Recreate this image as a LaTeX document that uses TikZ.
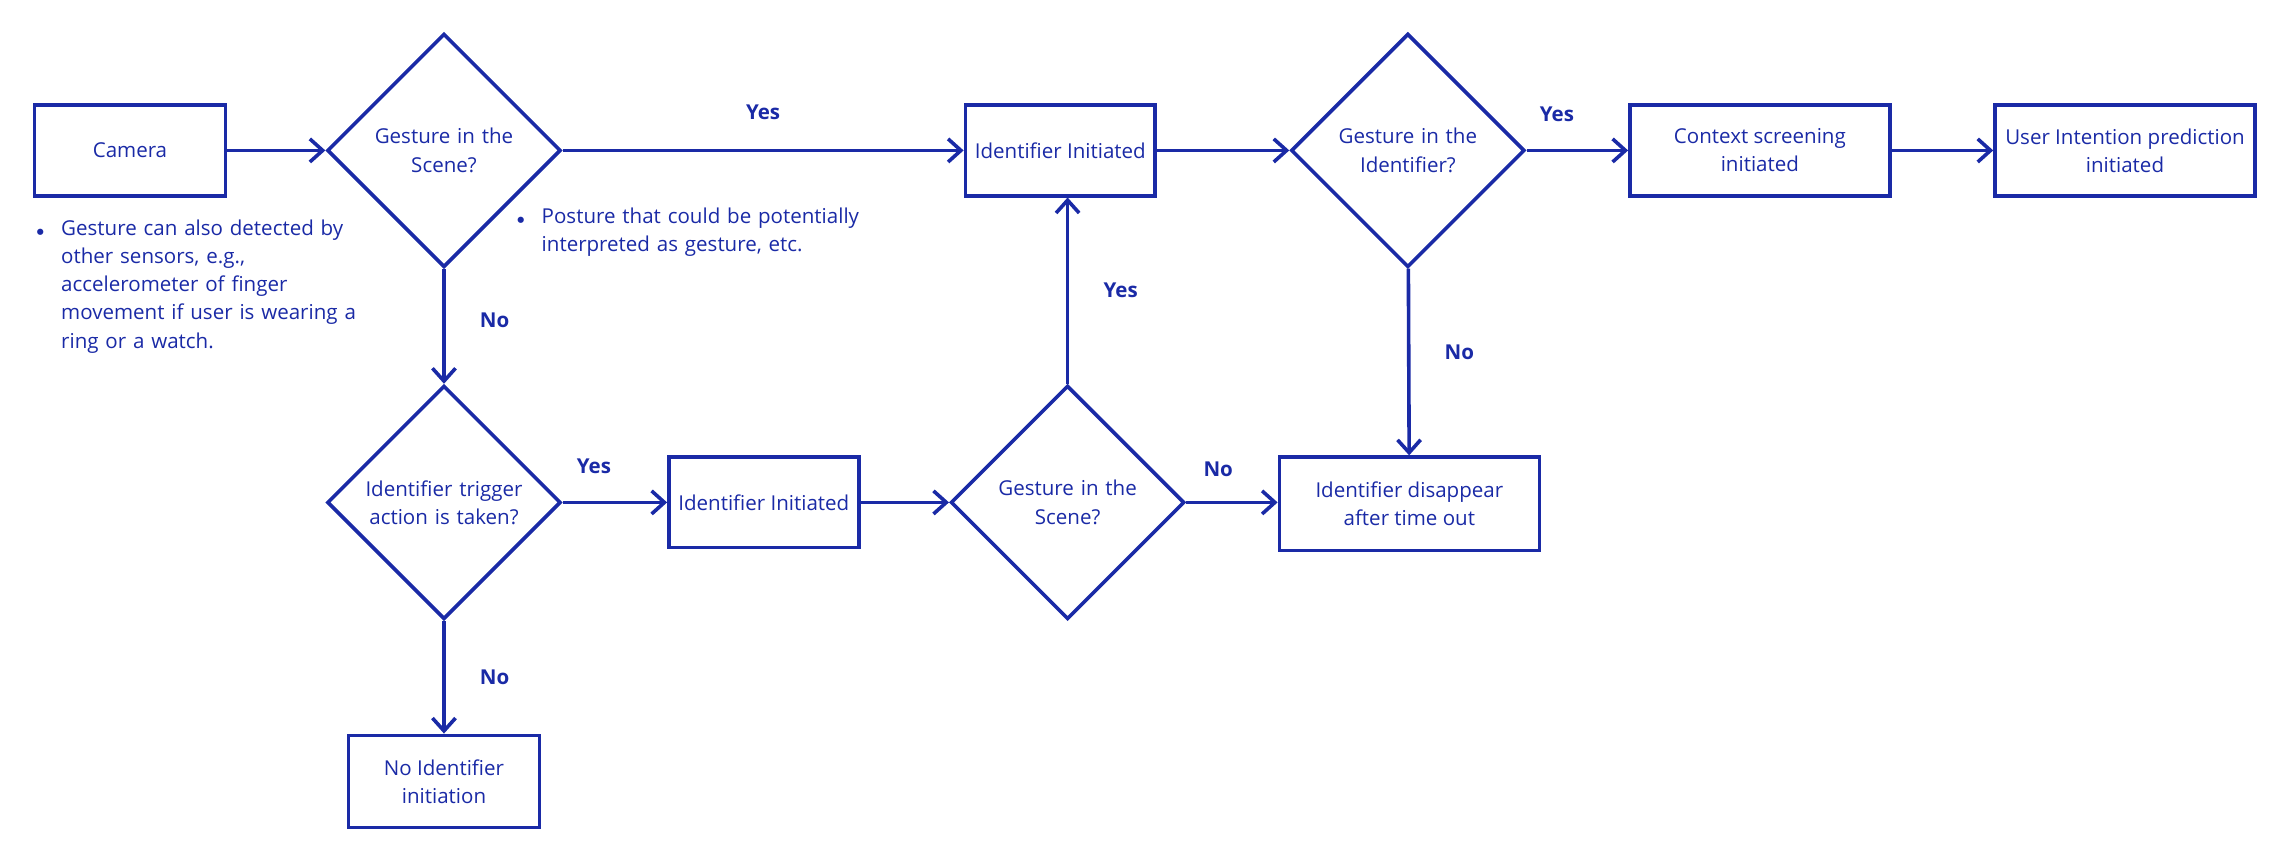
\documentclass[tikz,border=0pt]{standalone}
\usepackage{fontspec}
\setmainfont{Open Sans}
\usetikzlibrary{shapes.geometric,arrows.meta}
\definecolor{fc}{HTML}{1A2AA6}
\begin{document}
\begin{tikzpicture}[x=0.02cm,y=-0.02cm,
  every node/.style={text=fc,font=\fontsize{8}{11}\selectfont},
  box/.style={draw=fc,line width=1.4pt,minimum height=1.24cm,inner sep=2pt,align=center},
  dia/.style={draw=fc,line width=1.4pt,diamond,minimum width=3.2cm,minimum height=3.2cm,inner sep=0pt,text width=2.3cm,align=center},
  lab/.style={font=\fontsize{8}{10}\selectfont\bfseries},
  arr/.style={draw=fc,line width=1.4pt,-{Straight Barb[length=5pt,width=9pt]}}]
\useasboundingbox (0,0) rectangle (1568,593);
\node[box,minimum width=2.62cm] (cam) at (89,103) {Camera};
\node[dia] (d1) at (304,103) {Gesture in the\\Scene?\\[4pt]};
\node[box,minimum width=2.6cm] (id1) at (726,103) {Identifier Initiated};
\node[dia] (d2) at (964,103) {Gesture in the\\Identifier?\\[4pt]};
\node[box,minimum width=3.56cm] (ctx) at (1205,103) {Context screening\\initiated};
\node[box,minimum width=3.56cm] (uip) at (1455,103) {User Intention prediction\\initiated};
\node[dia] (d3) at (304,344) {Identifier trigger\\action is taken?\\[4pt]};
\node[box,minimum width=2.6cm] (id2) at (523,344) {Identifier Initiated};
\node[dia] (d4) at (731,344) {Gesture in the\\Scene?\\[4pt]};
\node[box,minimum width=3.56cm,minimum height=1.28cm] (dis) at (965,345) {Identifier disappear\\after time out};
\node[box,minimum width=2.62cm,minimum height=1.26cm] (noid) at (304,535) {No Identifier\\initiation};
\node[anchor=north west,align=left,text width=4.4cm,inner sep=0pt] (n1) at (24,150)
 {\makebox[10pt][l]{\tiny$\bullet$}Gesture can also detected by\\\hspace*{10pt}other sensors, e.g.,\\\hspace*{10pt}accelerometer of finger\\\hspace*{10pt}movement if user is wearing a\\\hspace*{10pt}ring or a watch.};
\node[anchor=north west,align=left,text width=5cm,inner sep=0pt] (n2) at (353,142)
 {\makebox[10pt][l]{\tiny$\bullet$}Posture that could be potentially\\\hspace*{10pt}interpreted as gesture, etc.};
\draw[arr] (cam) -- (d1);
\draw[arr] (d1) -- node[lab,above=8pt]{Yes} (id1);
\draw[arr] (id1) -- (d2);
\draw[arr] (d2) -- node[lab,pos=0.3,above=7pt]{Yes} (ctx);
\draw[arr] (ctx) -- (uip);
\draw[arr] (d1) -- node[lab,right=10pt,pos=0.45]{No} (d3);
\draw[arr] (d3) -- node[lab,pos=0.3,above=7pt]{Yes} (id2);
\draw[arr] (id2) -- (d4);
\draw[arr] (d4.north) -- node[lab,right=10pt]{Yes} (d4.north |- id1.south);
\draw[arr] (d4.east) -- node[lab,pos=0.35,above=6pt]{No} (d4.east -| dis.west);
\draw[arr] (d2) -- node[lab,right=10pt,pos=0.45]{No} (dis);
\draw[arr] (d3) -- node[lab,right=10pt]{No} (noid);
\end{tikzpicture}
\end{document}
